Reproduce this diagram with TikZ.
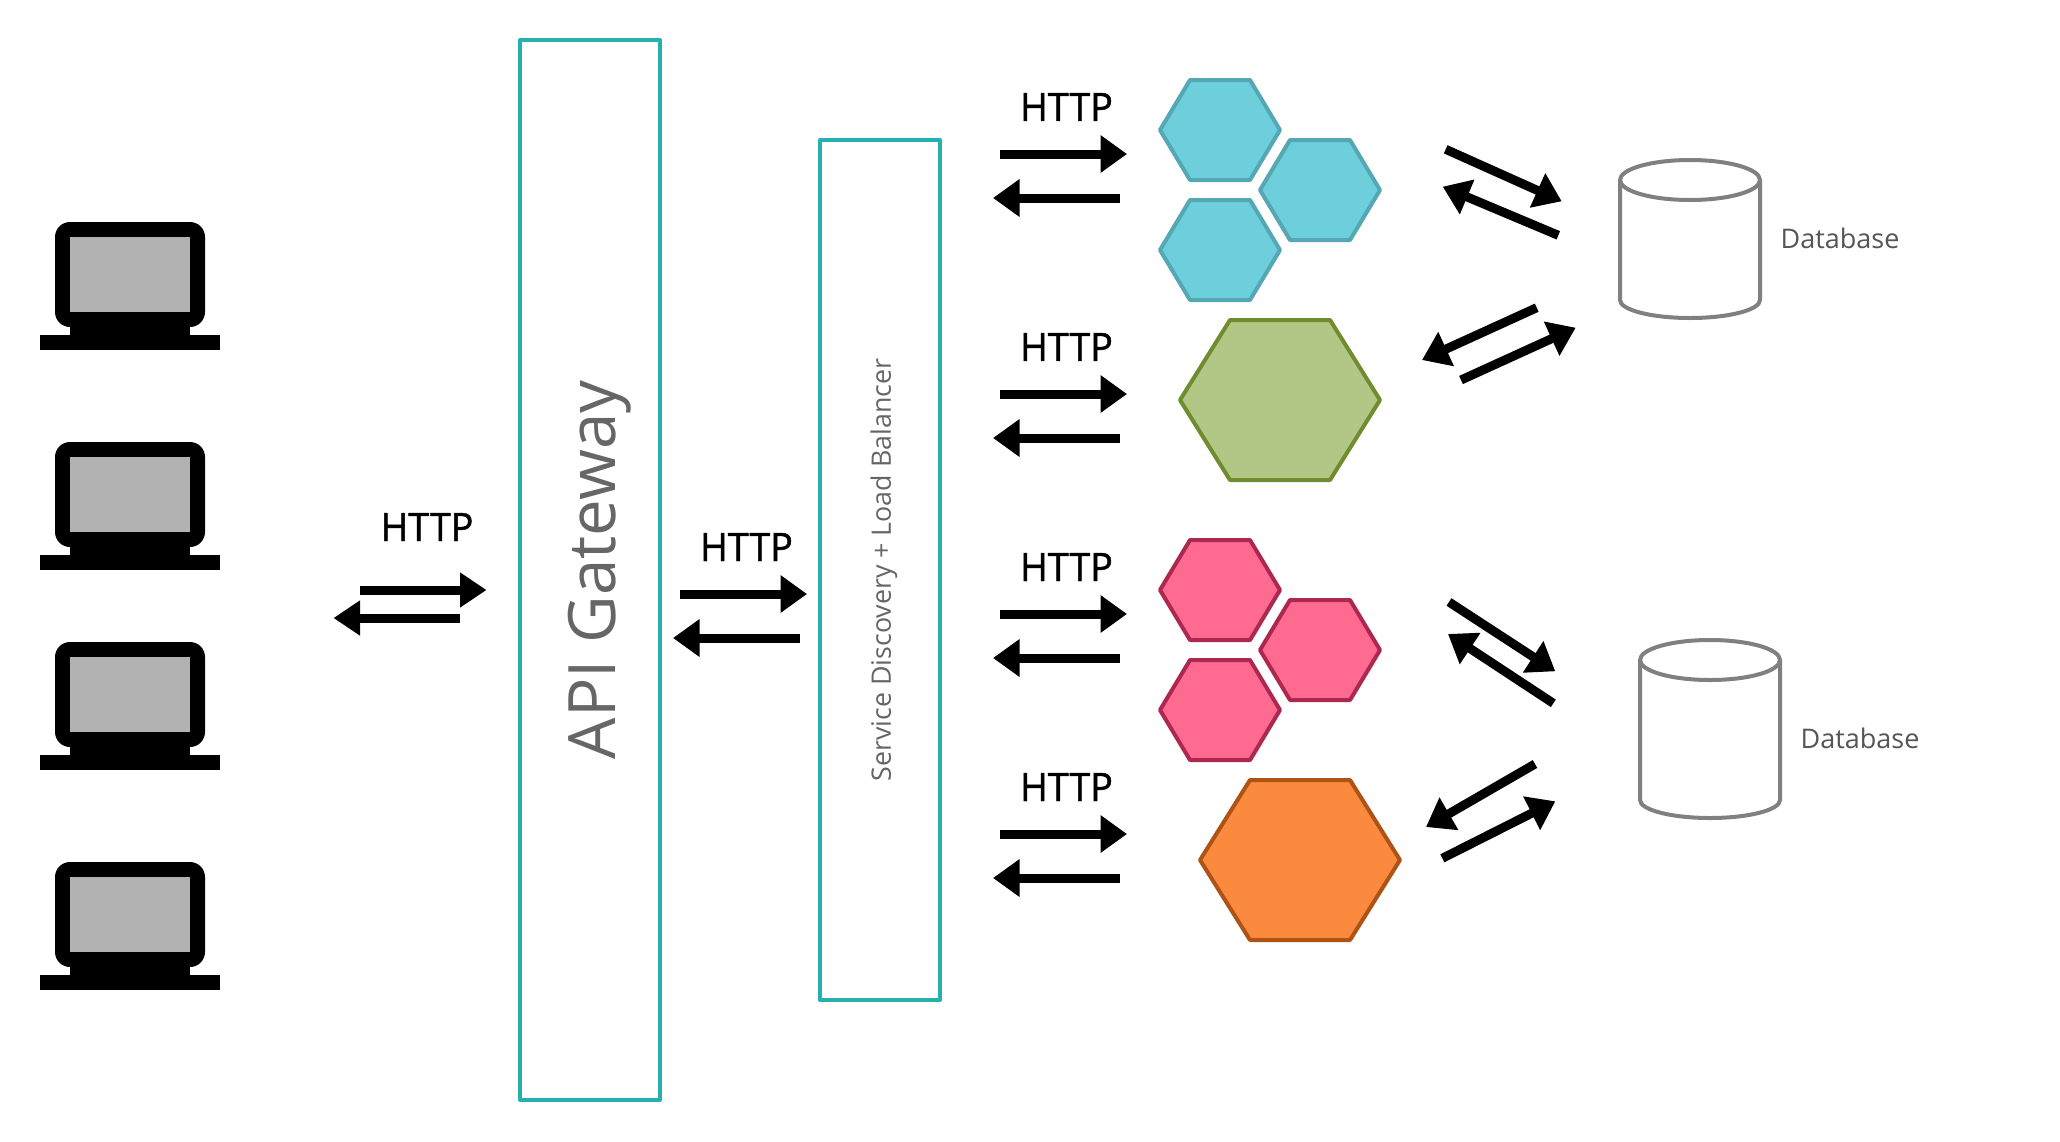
\documentclass[tikz,border=0pt]{standalone}
\usepackage{fontspec}
\setmainfont{Open Sans}
\newfontfamily\httpfont[FakeBold=1.2]{Open Sans}
\usetikzlibrary{arrows.meta}
\definecolor{teal1}{HTML}{27B1AE}
\definecolor{txtgray}{HTML}{666666}
\definecolor{dbtxt}{HTML}{555555}
\definecolor{dbgray}{HTML}{808080}
\definecolor{bluef}{HTML}{6ECFDC}\definecolor{blued}{HTML}{55A7B4}
\definecolor{greenf}{HTML}{B2C785}\definecolor{greend}{HTML}{6F8C2F}
\definecolor{pinkf}{HTML}{FF6B90}\definecolor{pinkd}{HTML}{AD2850}
\definecolor{orangef}{HTML}{FB8A3F}\definecolor{oranged}{HTML}{AE5316}
\tikzset{
  arrowline/.style={line width=4.5pt,-{Triangle[length=13.25pt,width=18pt]}},
  arrowthin/.style={line width=4.5pt,-{Triangle[length=13.25pt,width=16.7pt]}},
  gatebox/.style={draw=teal1,line width=2pt,fill=white,line join=round,inner sep=0pt},
  httplabel/.style={font=\httpfont\fontsize{19.6}{24}\selectfont,text=black,inner sep=0pt},
  dblabel/.style={font=\fontsize{13.5}{16}\selectfont,text=dbtxt,inner sep=0pt},
  hex/.style={line width=2pt,line join=round},
  cyl/.style={draw=dbgray,line width=2pt,fill=white},
}
\newcommand{\hexa}[8]{\path[hex,fill=#7,draw=#8] (#1,{(#5+#6)/2}) -- (#2,#5) -- (#3,#5) -- (#4,{(#5+#6)/2}) -- (#3,#6) -- (#2,#6) -- cycle;}
\newcommand{\laptop}[1]{%
  \fill[black,rounded corners=7.5pt] (55,#1) rectangle (205,#1+105);
  \fill[black] (70,#1+100) rectangle (190,#1+115);
  \fill[black] (40,#1+113) rectangle (220,#1+128);
  \fill[fill=black!30] (70,#1+15) rectangle (190,#1+90);
}
% \dbcyl{x left}{x right}{y top}{y bottom}
\newcommand{\dbcyl}[4]{%
  \path[cyl] (#1,#3+20) -- (#1,#4-18) arc[start angle=180,end angle=0,x radius={(#2-#1)/2},y radius=18] -- (#2,#3+20) arc[start angle=0,end angle=-180,x radius={(#2-#1)/2},y radius=20] -- cycle;
  \draw[draw=dbgray,line width=2pt] (#1,#3+20) arc[start angle=180,end angle=0,x radius={(#2-#1)/2},y radius=20];
}
\newcommand{\harrow}[5][arrowline]{%
  \coordinate (#2t) at (#3,#5); \coordinate (#2h) at (#4,#5);
  \draw[#1] (#2t) -- (#2h);
}
\newcommand{\darrow}[5]{%
  \coordinate (#1t) at (#2,#3); \coordinate (#1h) at (#4,#5);
  \draw[arrowline] (#1t) -- (#1h);
}
\newcommand{\httptext}{\scalebox{0.96}[1]{HTTP}}
\begin{document}
\begin{tikzpicture}[x=0.5pt,y=-0.5pt]
\useasboundingbox (0,0) rectangle (2060,1141);
\laptop{222}
\laptop{442}
\laptop{642}
\laptop{862}
\node[gatebox,minimum width=70pt,minimum height=530pt] (gateway) at (590,570) {};
\node[gatebox,minimum width=60pt,minimum height=430pt] (discovery) at (880,570) {};
\node[font=\fontsize{32.7}{38}\selectfont,text=txtgray,rotate=90,inner sep=0pt] (gatewaytext) at (600,570) {API Gateway};
\node[font=\fontsize{13.4}{16}\selectfont,text=txtgray,rotate=90,inner sep=0pt] (discoverytext) at (884,570) {Service Discovery + Load Balancer};
\node[httplabel] (h0) at (427,527) {\httptext};
\node[httplabel] (h1) at (746.5,547) {\httptext};
\node[httplabel] (h2) at (1066.5,107) {\httptext};
\node[httplabel] (h3) at (1066.5,347) {\httptext};
\node[httplabel] (h4) at (1066.5,567) {\httptext};
\node[httplabel] (h5) at (1066.5,787) {\httptext};
\harrow[arrowthin]{a0}{360}{486.5}{590}
\harrow[arrowthin]{b0}{460}{333.5}{618}
\harrow{a1}{680}{807}{594}
\harrow{b1}{800}{673}{638}
\harrow{a2}{1000}{1127}{154}
\harrow{b2}{1120}{993}{198}
\harrow{a3}{1000}{1127}{394}
\harrow{b3}{1120}{993}{438}
\harrow{a4}{1000}{1127}{614}
\harrow{b4}{1120}{993}{658}
\harrow{a5}{1000}{1127}{834}
\harrow{b5}{1120}{993}{878}
\hexa{1160}{1190}{1250}{1280}{80}{180}{bluef}{blued}
\hexa{1260}{1290}{1350}{1380}{140}{240}{bluef}{blued}
\hexa{1160}{1190}{1250}{1280}{200}{300}{bluef}{blued}
\hexa{1180}{1230}{1330}{1380}{320}{480}{greenf}{greend}
\hexa{1160}{1190}{1250}{1280}{540}{640}{pinkf}{pinkd}
\hexa{1260}{1290}{1350}{1380}{600}{700}{pinkf}{pinkd}
\hexa{1160}{1190}{1250}{1280}{660}{760}{pinkf}{pinkd}
\hexa{1200}{1250}{1350}{1400}{780}{940}{orangef}{oranged}
\darrow{c1}{1445.7}{149.3}{1561.7}{201.3}
\darrow{c2}{1558.3}{235.3}{1442.7}{186.7}
\darrow{c3}{1536.7}{307.7}{1422}{360}
\darrow{c4}{1461}{380}{1575.7}{327.7}
\darrow{c5}{1449}{602}{1555.3}{671.3}
\darrow{c6}{1553.3}{703.3}{1448}{634}
\darrow{c7}{1535}{764}{1426}{827}
\darrow{c8}{1442.3}{858.3}{1555.3}{801.3}
\dbcyl{1620}{1760}{160}{318}
\dbcyl{1640}{1780}{640}{818}
\node[dblabel] (db1) at (1840,238) {Database};
\node[dblabel] (db2) at (1860,738) {Database};
\end{tikzpicture}
\end{document}
